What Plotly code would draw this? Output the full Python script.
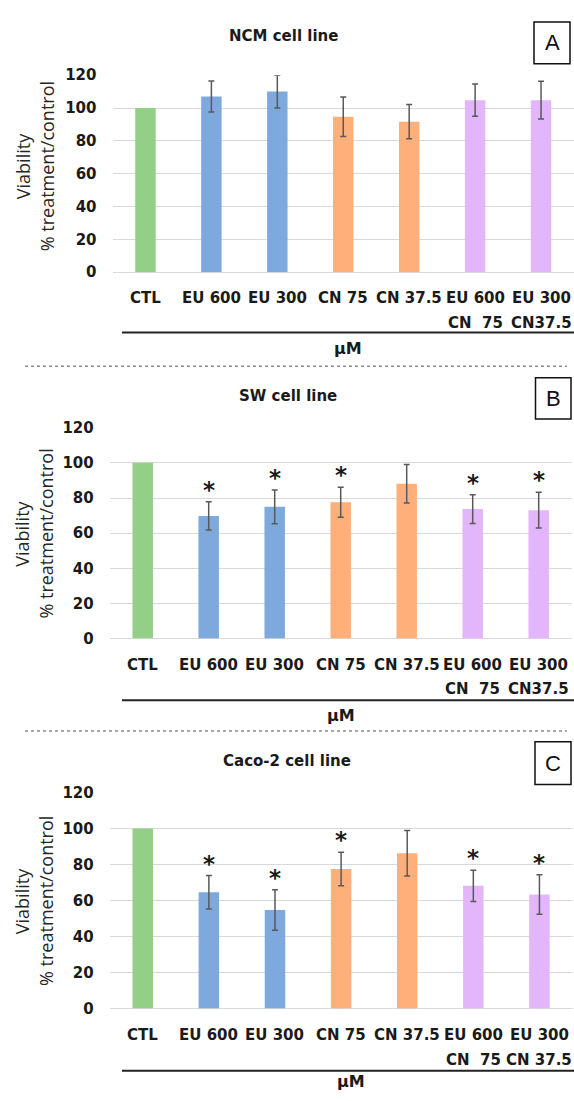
import plotly.graph_objects as go

W, H = 574, 1101

# ---------------- data ----------------
categories = ["CTL", "EU 600", "EU 300", "CN 75", "CN 37.5", "EU 600 CN 75", "EU 300 CN 37.5"]
label_line1 = ["CTL", "EU 600", "EU 300", "CN 75", "CN 37.5", "EU 600", "EU 300"]
label_line2_ab = ["", "", "", "", "", "CN\u00a0\u00a075", "CN37.5"]
label_line2_c = ["", "", "", "", "", "CN\u00a0\u00a075", "CN\u00a037.5"]
bar_colors = ["#93CF87", "#7EA9DC", "#7EA9DC", "#FFAF7A", "#FFAF7A", "#E3B6FB", "#E3B6FB"]

ncm_values = [100, 107.0, 110.0, 94.7, 91.7, 104.8, 104.8]
ncm_err = [0, 9.5, 10.0, 12.0, 10.5, 9.8, 11.5]
ncm_sig = [False, False, False, False, False, False, False]

sw_values = [100, 69.8, 75.0, 77.6, 88.1, 73.7, 73.1]
sw_err = [0, 8.0, 9.6, 8.5, 11.0, 8.2, 10.2]
sw_sig = [False, True, True, True, False, True, True]

caco_values = [100, 64.6, 54.7, 77.5, 86.3, 68.2, 63.3]
caco_err = [0, 9.3, 11.3, 9.3, 12.6, 8.7, 11.0]
caco_sig = [False, True, True, True, False, True, True]

panel_titles = ["NCM cell line", "SW cell line", "Caco-2 cell line"]
panel_letters = ["A", "B", "C"]
y_ticks = [0, 20, 40, 60, 80, 100, 120]

# ---------------- layout geometry (pixels) ----------------
def px(x):
    return x / W

def py(y):
    return 1 - y / H

panels = [
    dict(vals=ncm_values, err=ncm_err, sig=ncm_sig, l2=label_line2_ab,
         x0=112.5, x1=574.0, ytop=67.3, ybot=267.5, title_y=27, title_x=283,
         box=(534, 13.3, 570, 55.7), lab1=294.3, lab2=319.3, uline=329, mu=345, mu_x=348,
         ytitle_y=160, ytx=(23.8, 46.9)),
    dict(vals=sw_values, err=sw_err, sig=sw_sig, l2=label_line2_ab,
         x0=109.7, x1=571.7, ytop=425.7, ybot=640.0, title_y=393, title_x=288,
         box=(535.5, 375, 571, 416.7), lab1=666.7, lab2=691.7, uline=702.7, mu=718, mu_x=341,
         ytitle_y=533.5, ytx=(22, 45.8)),
    dict(vals=caco_values, err=caco_err, sig=caco_sig, l2=label_line2_c,
         x0=109.7, x1=572.5, ytop=796.7, ybot=1016.0, title_y=764, title_x=287,
         box=(535, 745, 571, 788.3), lab1=1043.3, lab2=1068.3, uline=1079.3, mu=1090, mu_x=351,
         ytitle_y=907, ytx=(22, 45.8)),
]

BOLD = "DejaVu Sans"
fig = go.Figure()
annotations = []
shapes = []

for i, p in enumerate(panels):
    n = "" if i == 0 else str(i + 1)
    xa = "x" + n
    ya = "y" + n
    # control bar (no error bar)
    fig.add_trace(go.Bar(
        x=categories[:1], y=p["vals"][:1], width=0.31,
        marker=dict(color=bar_colors[:1], line=dict(width=0)),
        xaxis=xa, yaxis=ya, showlegend=False, hoverinfo="x+y",
    ))
    # treatment bars with error bars
    fig.add_trace(go.Bar(
        x=categories[1:], y=p["vals"][1:], width=0.31,
        marker=dict(color=bar_colors[1:], line=dict(width=0)),
        error_y=dict(type="data", array=p["err"][1:], color="#595959", thickness=1.5, width=3),
        xaxis=xa, yaxis=ya, showlegend=False, hoverinfo="x+y",
    ))
    fig.layout["xaxis" + n] = dict(
        domain=[px(p["x0"]), min(1, px(p["x1"]))], range=[-0.5, 6.5],
        type="category", categoryorder="array", categoryarray=categories,
        showticklabels=False, showgrid=False, zeroline=False, showline=False,
        anchor=ya,
    )
    fig.layout["yaxis" + n] = dict(
        domain=[py(p["ybot"]), py(p["ytop"])], range=[0, 120],
        tickvals=y_ticks, showgrid=True, gridcolor="#D9D9D9", gridwidth=1,
        zeroline=True, zerolinecolor="#D9D9D9", zerolinewidth=1, showline=False,
        ticks="", ticklabelstandoff=15,
        tickfont=dict(family=BOLD, size=15, color="#1a1a1a", weight="bold"),
        anchor=xa,
    )
    # category labels
    for c, t1, t2 in zip(categories, label_line1, p["l2"]):
        annotations.append(dict(xref=xa, yref="paper", x=c, y=py(p["lab1"]), text=t1,
                                showarrow=False, yanchor="middle", xanchor="center",
                                font=dict(family=BOLD, size=15, color="#1a1a1a", weight="bold")))
        if t2:
            annotations.append(dict(xref=xa, yref="paper", x=c, y=py(p["lab2"]), text=t2,
                                    showarrow=False, yanchor="middle", xanchor="center",
                                    font=dict(family=BOLD, size=15, color="#1a1a1a", weight="bold")))
    # significance stars
    for c, v, e, s in zip(categories, p["vals"], p["err"], p["sig"]):
        if s:
            annotations.append(dict(xref=xa, yref=ya, x=c, y=v + e, text="*",
                                    showarrow=False, yanchor="middle", xanchor="center",
                                    yshift=12,
                                    font=dict(family=BOLD, size=23, color="#1a1a1a", weight="bold")))
    # title
    annotations.append(dict(xref="paper", yref="paper", x=px(p["title_x"]), y=py(p["title_y"]),
                            text=panel_titles[i], showarrow=False, xanchor="center", yanchor="middle",
                            font=dict(family=BOLD, size=15, color="#1a1a1a", weight="bold")))
    # panel letter box
    bx0, by0, bx1, by1 = p["box"]
    shapes.append(dict(type="rect", xref="paper", yref="paper", x0=px(bx0), x1=px(bx1),
                       y0=py(by1), y1=py(by0), line=dict(color="#111", width=1.5)))
    annotations.append(dict(xref="paper", yref="paper", x=px((bx0 + bx1) / 2), y=py((by0 + by1) / 2),
                            text=panel_letters[i], showarrow=False, xanchor="center", yanchor="middle",
                            font=dict(family="Liberation Sans", size=22, color="#111")))
    # y axis title (two lines)
    annotations.append(dict(xref="paper", yref="paper", x=px(p["ytx"][0]), y=py(p["ytitle_y"]),
                            text="Viability", textangle=-90, showarrow=False,
                            xanchor="center", yanchor="middle",
                            font=dict(family="Open Sans", size=18, color="#262626")))
    annotations.append(dict(xref="paper", yref="paper", x=px(p["ytx"][1]), y=py(p["ytitle_y"]),
                            text="% treatment/control", textangle=-90, showarrow=False,
                            xanchor="center", yanchor="middle",
                            font=dict(family="Open Sans", size=18, color="#262626")))
    # underline and µM
    shapes.append(dict(type="line", xref="paper", yref="paper", x0=px(122), x1=1,
                       y0=py(p["uline"]), y1=py(p["uline"]), line=dict(color="#222", width=2)))
    annotations.append(dict(xref="paper", yref="paper", x=px(p["mu_x"]), y=py(p["mu"]),
                            text="µM", showarrow=False, xanchor="center", yanchor="middle",
                            font=dict(family=BOLD, size=16, color="#1a1a1a", weight="bold")))

# dotted separators
for ysep in [363.3, 734]:
    shapes.append(dict(type="line", xref="paper", yref="paper", x0=px(25), x1=px(567),
                       y0=py(ysep), y1=py(ysep), line=dict(color="#8c8c8c", width=1.5, dash="dot")))

fig.update_layout(
    width=W, height=H, autosize=False,
    margin=dict(l=0, r=0, t=0, b=0),
    paper_bgcolor="white", plot_bgcolor="white",
    annotations=annotations, shapes=shapes,
    showlegend=False, barmode="overlay",
)

fig.write_html("out.html")
